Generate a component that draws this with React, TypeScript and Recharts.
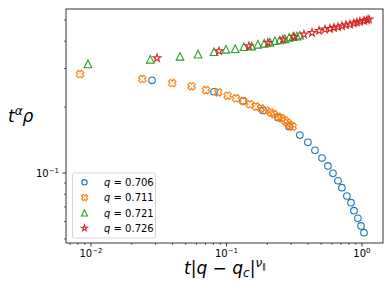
import { ScatterChart, Scatter, XAxis, YAxis } from "recharts";

// (log-log axes)
const q706X = [0.0282, 0.0809, 0.1325, 0.186, 0.24, 0.289, 0.348, 0.399, 0.45, 0.507, 0.561, 0.611, 0.665, 0.711, 0.774, 0.83, 0.873, 0.933, 0.984, 1.035];
const q706Y = [0.265, 0.235, 0.213, 0.193, 0.179, 0.163, 0.149, 0.138, 0.127, 0.117, 0.1077, 0.0997, 0.0922, 0.0857, 0.0785, 0.0732, 0.0673, 0.0621, 0.0573, 0.0534];

const q711X = [0.0083, 0.0239, 0.0398, 0.0553, 0.0706, 0.0869, 0.102, 0.1175, 0.133, 0.149, 0.165, 0.18, 0.196, 0.212, 0.2245, 0.241, 0.255, 0.27, 0.281, 0.294, 0.308];
const q711Y = [0.283, 0.2685, 0.2576, 0.249, 0.239, 0.2335, 0.2254, 0.2193, 0.213, 0.206, 0.201, 0.1974, 0.193, 0.189, 0.1854, 0.1807, 0.1778, 0.1734, 0.1697, 0.1656, 0.1628];

const q721X = [0.0095, 0.0274, 0.0454, 0.0617, 0.0809, 0.0991, 0.116, 0.1346, 0.1535, 0.1706, 0.19, 0.2094, 0.228, 0.248, 0.27, 0.2907, 0.31, 0.331, 0.348];
const q721Y = [0.315, 0.3305, 0.341, 0.349, 0.358, 0.367, 0.3695, 0.3774, 0.38, 0.387, 0.391, 0.395, 0.402, 0.405, 0.41, 0.4165, 0.42, 0.422, 0.4256];

const q726X = [0.0307, 0.0881, 0.1466, 0.202, 0.261, 0.315, 0.373, 0.428, 0.482, 0.533, 0.581, 0.621, 0.665, 0.711, 0.762, 0.815, 0.873, 0.918, 0.966, 1.035, 1.089, 1.127];
const q726Y = [0.335, 0.3605, 0.38, 0.3936, 0.4077, 0.419, 0.4295, 0.437, 0.4466, 0.453, 0.456, 0.4607, 0.464, 0.469, 0.4745, 0.4776, 0.4827, 0.4876, 0.491, 0.4958, 0.4995, 0.503];

const seriesNames = ["q = 0.706", "q = 0.711", "q = 0.721", "q = 0.726"];

const xTicks = [0.007, 0.008, 0.009, 0.01, 0.02, 0.03, 0.04, 0.05, 0.06, 0.07, 0.08, 0.09, 0.1, 0.2, 0.3, 0.4, 0.5, 0.6, 0.7, 0.8, 0.9, 1];
const yTicks = [0.05, 0.06, 0.07, 0.08, 0.09, 0.1, 0.2, 0.3, 0.4, 0.5];
const xMajor: Record<string, string> = { "0.01": "−2", "0.1": "−1", "1": "0" };
const yMajor: Record<string, string> = { "0.1": "−1" };

const BLUE = "#1f77b4";
const ORANGE = "#ff7f0e";
const GREEN = "#2ca02c";
const RED = "#d62728";
const FONT = "DejaVu Sans, sans-serif";

const zip = (xs: number[], ys: number[]) => xs.map((x, i) => ({ x, y: ys[i] }));

const circleShape = (cx: number, cy: number, s = 1) => (
  <circle cx={cx} cy={cy} r={3.3 * s} fill="none" stroke={BLUE} strokeWidth={1.1} />
);

const crossShape = (cx: number, cy: number, s = 1) => {
  const size = 7.6 * s;
  const a = 0.2;
  const L = 0.5;
  const base = [[-a, L], [a, L], [a, a], [L, a], [L, -a], [a, -a], [a, -L], [-a, -L], [-a, -a], [-L, -a], [-L, a], [-a, a]];
  const c = Math.SQRT1_2;
  const pts = base.map(([u, v]) => `${cx + size * (u * c - v * c)},${cy + size * (u * c + v * c)}`).join(" ");
  return <polygon points={pts} fill="none" stroke={ORANGE} strokeWidth={1.1} />;
};

const triShape = (cx: number, cy: number, s = 1) => {
  const h = 3.8 * s;
  return (
    <polygon
      points={`${cx},${cy - h} ${cx - h},${cy + h} ${cx + h},${cy + h}`}
      fill="none"
      stroke={GREEN}
      strokeWidth={1.1}
    />
  );
};

const starShape = (cx: number, cy: number, s = 1) => {
  const R = 4 * s;
  const r = R * 0.382;
  const pts: string[] = [];
  for (let i = 0; i < 10; i++) {
    const rad = i % 2 === 0 ? R : r;
    const ang = -Math.PI / 2 + (i * Math.PI) / 5;
    pts.push(`${cx + rad * Math.cos(ang)},${cy + rad * Math.sin(ang)}`);
  }
  return <polygon points={pts.join(" ")} fill="none" stroke={RED} strokeWidth={1.1} />;
};

const shapes = [circleShape, crossShape, triShape, starShape];

const XTick = (props: any) => {
  const { x, y, payload } = props;
  const label = xMajor[String(payload.value)];
  return (
    <g>
      <line x1={x} y1={y} x2={x} y2={y + (label ? 3.5 : 2)} stroke="#000" strokeWidth={label ? 0.8 : 0.6} />
      {label && (
        <text x={x} y={y + 14} textAnchor="middle" fontSize={10} fontFamily={FONT} fill="#000">
          10<tspan dy={-4} fontSize={7}>{label}</tspan>
        </text>
      )}
    </g>
  );
};

const YTick = (props: any) => {
  const { x, y, payload } = props;
  const label = yMajor[String(payload.value)];
  return (
    <g>
      <line x1={x} y1={y} x2={x - (label ? 3.5 : 2)} y2={y} stroke="#000" strokeWidth={label ? 0.8 : 0.6} />
      {label && (
        <text x={x - 7} y={y + 4} textAnchor="end" fontSize={10} fontFamily={FONT} fill="#000">
          10<tspan dy={-4} fontSize={7}>{label}</tspan>
        </text>
      )}
    </g>
  );
};

const App = () => {
  const series = [zip(q706X, q706Y), zip(q711X, q711Y), zip(q721X, q721Y), zip(q726X, q726Y)];

  return (
    <div style={{ position: "absolute", left: 0, top: 0, width: 392, height: 294, background: "#fff" }}>
      <ScatterChart width={392} height={294} margin={{ top: 9, right: 9, bottom: 21, left: 16 }}>
        <XAxis
          dataKey="x"
          type="number"
          scale="log"
          domain={[0.00654, 1.43]}
          allowDataOverflow
          ticks={xTicks}
          interval={0}
          axisLine={false}
          tickLine={false}
          tickSize={0}
          tickMargin={0}
          height={30}
          tick={<XTick />}
        />
        <YAxis
          dataKey="y"
          type="number"
          scale="log"
          domain={[0.0479, 0.561]}
          allowDataOverflow
          ticks={yTicks}
          interval={0}
          axisLine={false}
          tickLine={false}
          tickSize={0}
          tickMargin={0}
          width={50}
          tick={<YTick />}
        />
        {series.map((d, i) => (
          <Scatter
            key={seriesNames[i]}
            name={seriesNames[i]}
            data={d}
            isAnimationActive={false}
            shape={(p: any) => shapes[i](p.cx, p.cy)}
          />
        ))}
      </ScatterChart>
      <svg width={392} height={294} style={{ position: "absolute", left: 0, top: 0, pointerEvents: "none" }}>
        <rect x={66} y={9} width={317} height={234} fill="none" stroke="#000" strokeWidth={0.8} />
        <text x={8} y={122} fontSize={17} fontFamily={FONT} fill="#000">
          <tspan fontStyle="italic">t</tspan>
          <tspan dy={-7} fontSize={12} fontStyle="italic">α</tspan>
          <tspan dy={7} fontStyle="italic">ρ</tspan>
        </text>
        <text x={184} y={274} fontSize={17} fontFamily={FONT} fill="#000">
          <tspan fontStyle="italic">t</tspan>
          <tspan>|</tspan>
          <tspan fontStyle="italic">q</tspan>
          <tspan> − </tspan>
          <tspan fontStyle="italic">q</tspan>
          <tspan dy={3} fontSize={12} fontStyle="italic">c</tspan>
          <tspan dy={-3}>|</tspan>
          <tspan dy={-7} fontSize={12} fontStyle="italic">ν</tspan>
          <tspan dy={2} fontSize={8}>∥</tspan>
        </text>
        <rect x={72.5} y={173} width={83} height={65} rx={2} fill="#fff" fillOpacity={0.8} stroke="#cccccc" strokeWidth={0.8} />
        {seriesNames.map((name, i) => {
          const cy = 182.3 + i * 15.3;
          return (
            <g key={name}>
              {shapes[i](84.5, cy, 0.8)}
              <text x={104} y={cy + 3.6} fontSize={10} fontFamily={FONT} fill="#000">
                <tspan fontStyle="italic">q</tspan>
                {name.slice(1)}
              </text>
            </g>
          );
        })}
      </svg>
    </div>
  );
};

export default App;
